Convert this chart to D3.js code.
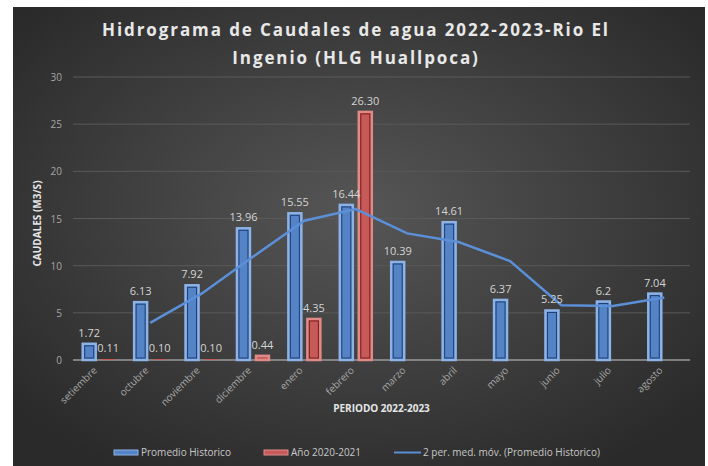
<!DOCTYPE html>
<html lang="en">
<head>
  <meta charset="utf-8">
  <title>Hidrograma</title>
  <script src="https://d3js.org/d3.v7.min.js"></script>
  <style>
  body { margin:0; background:#fff; font-family:"Open Sans", Calibri, sans-serif; }
  .tick-label { fill:#a6a6a6; font-size:10px; }
  .val-label { fill:#d4d4d4; font-size:11px; text-anchor:middle; }
  .axis-title { fill:#e6e6e6; font-size:10px; font-weight:bold; text-anchor:middle; }
  .legend text { fill:#c8c8c8; font-size:10px; }
  </style>
</head>
<body>
<script>

var width = 708;
var height = 466;

// Data
var months = ["setiembre","octubre","noviembre","diciembre","enero","febrero",
  "marzo","abril","mayo","junio","julio","agosto"];
var historico = [1.72, 6.13, 7.92, 13.96, 15.55, 16.44, 10.39, 14.61, 6.37, 5.25, 6.2, 7.04];
var historicoLabels = ["1.72","6.13","7.92","13.96","15.55","16.44","10.39","14.61","6.37","5.25","6.2","7.04"];
var anio = [0.11, 0.10, 0.10, 0.44, 4.35, 26.30, null, null, null, null, null, null];
var anioLabels = ["0.11","0.10","0.10","0.44","4.35","26.30","","","","","",""];
var mediaMovil = [null, 3.93, 7.03, 10.94, 14.76, 16.0, 13.42, 12.5, 10.49, 5.81, 5.73, 6.62];
var yTicks = [0, 5, 10, 15, 20, 25, 30];

var plot = {left: 73, right: 690, top: 77, bottom: 360};

var svg = d3.select("body").append("svg")
  .attr("width", width)
  .attr("height", height);

var defs = svg.append("defs");
var grad = defs.append("radialGradient")
  .attr("id", "bg")
  .attr("cx", "50%").attr("cy", "45%").attr("r", "65%");
grad.append("stop").attr("offset", "0%").attr("stop-color", "#565656");
grad.append("stop").attr("offset", "100%").attr("stop-color", "#2a2a2a");

svg.append("rect")
  .attr("x", 13).attr("y", 7)
  .attr("width", 692).attr("height", height - 7)
  .attr("fill", "url(#bg)");

// Title
var title = svg.append("text")
  .attr("text-anchor", "middle")
  .attr("fill", "#e8e8e8")
  .attr("font-size", "17px")
  .attr("font-weight", "bold")
  .attr("letter-spacing", "1.9px");
title.append("tspan").attr("x", 356).attr("y", 36).text("Hidrograma de Caudales de agua 2022-2023-Rio El");
title.append("tspan").attr("x", 356).attr("y", 64).text("Ingenio (HLG Huallpoca)");

var x = d3.scaleBand()
  .domain(months)
  .range([plot.left, plot.right]);

var y = d3.scaleLinear()
  .domain([0, 30])
  .range([plot.bottom, plot.top]);

// gridlines
svg.append("g").selectAll("line")
  .data(yTicks)
  .enter().append("line")
  .attr("x1", plot.left).attr("x2", plot.right)
  .attr("y1", function(d) { return y(d); })
  .attr("y2", function(d) { return y(d); })
  .attr("stroke", function(d) { return d == 0 ? "#9a9a9a" : "#5a5a5a"; })
  .attr("stroke-width", function(d) { return d == 0 ? 1.5 : 1; });

svg.append("g").selectAll("text")
  .data(yTicks)
  .enter().append("text")
  .attr("class", "tick-label")
  .attr("x", 62)
  .attr("y", function(d) { return y(d) + 4; })
  .attr("text-anchor", "end")
  .text(function(d) { return d; });

var barW = 13;
var gap = 6;

function drawBars(values, offset, fill, outer, inner) {
  var g = svg.append("g");
  var items = months.map(function(m, i) { return {m: m, v: values[i]}; })
    .filter(function(d) { return d.v != null; });
  // tiny values are barely visible in the original
  g.selectAll("rect.o")
    .data(items)
    .enter().append("rect")
    .attr("x", function(d) { return x(d.m) + x.bandwidth() / 2 + offset; })
    .attr("y", function(d) { return y(d.v); })
    .attr("width", barW)
    .attr("height", function(d) { return y(0) - y(d.v); })
    .attr("fill", fill)
    .attr("stroke", function(d) { return y(0) - y(d.v) < 2 ? "none" : outer; })
    .attr("stroke-width", 2.5);
  g.selectAll("rect.i")
    .data(items.filter(function(d) { return y(0) - y(d.v) > 6; }))
    .enter().append("rect")
    .attr("x", function(d) { return x(d.m) + x.bandwidth() / 2 + offset + 2; })
    .attr("y", function(d) { return y(d.v) + 2; })
    .attr("width", barW - 4)
    .attr("height", function(d) { return y(0) - y(d.v) - 4; })
    .attr("fill", "none")
    .attr("stroke", inner)
    .attr("stroke-width", 1);
}

drawBars(historico, -barW - gap / 2, "#5584c6", "#8db2e6", "#1e3f75");
drawBars(anio, gap / 2, "#c65a58", "#e08a88", "#7a1e1e");

// moving average line
var line = d3.line()
  .defined(function(d) { return d.v != null; })
  .x(function(d) { return x(d.m) + x.bandwidth() / 2; })
  .y(function(d) { return y(d.v); });

svg.append("path")
  .datum(months.map(function(m, i) { return {m: m, v: mediaMovil[i]}; }))
  .attr("d", line)
  .attr("fill", "none")
  .attr("stroke", "#5b8fd8")
  .attr("stroke-width", 2.5);

// value labels
svg.append("g").selectAll("text")
  .data(months)
  .enter().append("text")
  .attr("class", "val-label")
  .attr("x", function(d) { return x(d) + x.bandwidth() / 2 - barW / 2 - gap / 2; })
  .attr("y", function(d, i) { return y(historico[i]) - 7; })
  .text(function(d, i) { return historicoLabels[i]; });

svg.append("g").selectAll("text")
  .data(months)
  .enter().append("text")
  .attr("class", "val-label")
  .attr("x", function(d, i) { return x(d) + x.bandwidth() / 2 + barW / 2 + gap / 2; })
  .attr("y", function(d, i) { return anio[i] == null ? 0 : y(anio[i]) - 7; })
  .text(function(d, i) { return anioLabels[i]; });

// x labels rotated
svg.append("g").selectAll("text")
  .data(months)
  .enter().append("text")
  .attr("class", "tick-label")
  .attr("font-size", "9.5px")
  .attr("text-anchor", "end")
  .attr("transform", function(d) {
    return "translate(" + (x(d) + x.bandwidth() / 2 - 1) + "," + (plot.bottom + 11) + ") rotate(-45)";
  })
  .text(function(d) { return d; });

// axis titles
svg.append("text")
  .attr("class", "axis-title")
  .attr("transform", "translate(41," + (y(15) + 5) + ") rotate(-90)")
  .text("CAUDALES (M3/S)");

svg.append("text")
  .attr("class", "axis-title")
  .attr("x", (plot.left + plot.right) / 2)
  .attr("y", 412)
  .text("PERIODO 2022-2023");

// legend
var legend = svg.append("g").attr("class", "legend");
legend.append("rect").attr("x", 114).attr("y", 450).attr("width", 24).attr("height", 5)
  .attr("fill", "#5584c6").attr("stroke", "#8db2e6").attr("stroke-width", 1);
legend.append("text").attr("x", 141).attr("y", 456).text("Promedio Historico");
legend.append("rect").attr("x", 264).attr("y", 450).attr("width", 24).attr("height", 5)
  .attr("fill", "#c65a58").attr("stroke", "#e08a88").attr("stroke-width", 1);
legend.append("text").attr("x", 291).attr("y", 456).text("Año 2020-2021");
legend.append("line").attr("x1", 394).attr("x2", 421).attr("y1", 452.5).attr("y2", 452.5)
  .attr("stroke", "#5b8fd8").attr("stroke-width", 2);
legend.append("text").attr("x", 423).attr("y", 456).text("2 per. med. móv. (Promedio Historico)");

</script>
</body>
</html>
